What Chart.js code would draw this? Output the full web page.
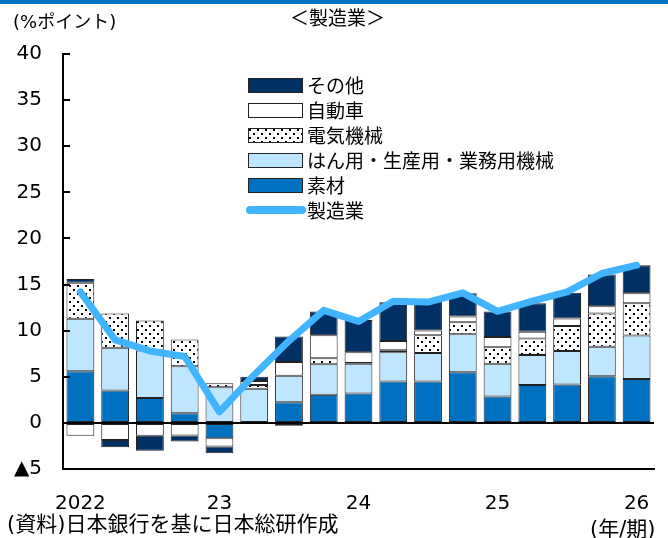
<!DOCTYPE html>
<html>
<head>
<meta charset="utf-8">
<script src="https://cdn.jsdelivr.net/npm/chart.js@4/dist/chart.umd.min.js"></script>
<style>
  body { margin: 0; background: #fff; }
  #wrap { position: relative; width: 668px; height: 538px; overflow: hidden; }
  #bar { position: absolute; left: 0; top: 0; width: 668px; height: 4px; background: rgb(0,112,192); }
  .txt { position: absolute; font-family: "DejaVu Sans", "Noto Sans CJK JP", sans-serif; color: #000; white-space: nowrap; }
</style>
</head>
<body>
<div id="wrap">
  <div id="bar"></div>
  <canvas id="graph" width="668" height="538"></canvas>
  <div class="txt" style="left:13px; top:7px; font-size:18px;">(%ポイント)</div>
  <div class="txt" style="left:290px; top:3px; font-size:19px; font-family:'Noto Sans CJK JP';">＜製造業＞</div>
  <div class="txt" style="left:7px; top:507px; font-size:21px;">(資料)日本銀行を基に日本総研作成</div>
  <div class="txt" style="left:590px; top:512px; font-size:21px;">(年/期)</div>
</div>
<script>
// 2022Q1 - 2026Q1
const quarters = ["2022/1","2022/2","2022/3","2022/4","2023/1","2023/2","2023/3","2023/4",
                  "2024/1","2024/2","2024/3","2024/4","2025/1","2025/2","2025/3","2025/4","2026/1"];
const tickLabels = ["2022","","","","23","","","","24","","","","25","","","","26"];

const sozai   = [5.6, 3.5, 2.7, 1.05, -1.67, 0, 2.24, 3.04, 3.2, 4.5, 4.5, 5.5, 2.86, 4.1, 4.17, 5.07, 4.77];
const hanyou  = [5.7, 4.65, 5.15, 5.1, 3.87, 3.7, 2.86, 3.33, 3.2, 3.15, 3.07, 4.12, 3.54, 3.25, 3.63, 3.18, 4.7];
const denki   = [3.9, 3.7, 3.25, 2.9, 0.43, 0.4, -0.3, 0.63, 0.1, 0.22, 1.92, 1.3, 1.8, 1.8, 2.7, 3.6, 3.5];
const jidosha = [-1.4, -1.85, -1.4, -1.37, -0.9, 0.45, 1.5, 2.5, 1.16, 1.0, 0.54, 0.61, 1.1, 0.72, 0.83, 0.8, 1.08];
const sonota  = [0.4, -0.8, -1.63, -0.65, -0.73, 0.45, 2.76, 2.57, 3.5, 4.2, 3.1, 2.54, 2.77, 3.1, 2.78, 3.44, 3.05];
const seizo   = [14.2, 9.0, 7.8, 7.2, 1.2, 5.2, 8.9, 12.2, 11.0, 13.2, 13.1, 14.1, 12.1, 13.2, 14.2, 16.2, 17.1];

const colSozai = 'rgb(0,112,192)';
const colHanyou = 'rgb(190,230,255)';
const colSonota = 'rgb(0,48,100)';
const colLine = 'rgb(64,180,255)';

// 電気機械 の点模様
function dotPattern() {
    const c = document.createElement('canvas');
    c.width = 8; c.height = 8;
    const g = c.getContext('2d');
    g.fillStyle = '#fff';
    g.fillRect(0, 0, 8, 8);
    g.fillStyle = '#000';
    g.fillRect(1, 1, 2, 2);
    g.fillRect(5, 5, 2, 2);
    return g.createPattern(c, 'repeat');
}
const dots = dotPattern();

const legendItems = [
    { label: 'その他', fill: colSonota },
    { label: '自動車', fill: '#fff' },
    { label: '電気機械', fill: dots },
    { label: 'はん用・生産用・業務用機械', fill: colHanyou },
    { label: '素材', fill: colSozai },
    { label: '製造業', line: colLine }
];

const extras = {
    id: 'extras',
    afterDraw(chart) {
        const ctx = chart.ctx;
        const y = chart.scales.y;
        // 内向きの目盛り
        ctx.save();
        ctx.strokeStyle = '#000';
        ctx.lineWidth = 2;
        y.ticks.forEach(t => {
            if (t.value <= -5) return;
            const py = Math.round(y.getPixelForValue(t.value));
            ctx.beginPath();
            ctx.moveTo(y.right, py);
            ctx.lineTo(y.right + 7, py);
            ctx.stroke();
        });
        // 凡例
        const x0 = 248, w = 54, h = 14;
        ctx.font = '19px "Noto Sans CJK JP"';
        ctx.textBaseline = 'middle';
        legendItems.forEach((it, i) => {
            const cy = 85 + i * 25;
            if (it.line) {
                ctx.strokeStyle = it.line;
                ctx.lineWidth = 8;
                ctx.lineCap = 'round';
                ctx.beginPath();
                ctx.moveTo(x0 + 2, cy);
                ctx.lineTo(x0 + w, cy);
                ctx.stroke();
            } else {
                ctx.fillStyle = it.fill;
                ctx.fillRect(x0, cy - h / 2, w, h);
                ctx.strokeStyle = '#222';
                ctx.lineWidth = 1;
                ctx.strokeRect(x0 + 0.5, cy - h / 2 + 0.5, w, h);
            }
            ctx.fillStyle = '#000';
            ctx.fillText(it.label, x0 + w + 5, cy + 1);
        });
        ctx.restore();
    }
};

const barBase = { type: 'bar', borderColor: '#222', borderWidth: 1, borderSkipped: false, order: 1, stack: 'parts',
                  barPercentage: 0.8, categoryPercentage: 1.0 };

new Chart(document.getElementById('graph'), {
    data: {
        labels: quarters,
        datasets: [
            { ...barBase, label: '素材', data: sozai, backgroundColor: colSozai },
            { ...barBase, label: 'はん用・生産用・業務用機械', data: hanyou, backgroundColor: colHanyou },
            { ...barBase, label: '電気機械', data: denki, backgroundColor: dots },
            { ...barBase, label: '自動車', data: jidosha, backgroundColor: '#fff' },
            { ...barBase, label: 'その他', data: sonota, backgroundColor: colSonota },
            { type: 'line', label: '製造業', data: seizo, stack: 'total', order: 0,
              borderColor: colLine, borderWidth: 7, pointRadius: 0, tension: 0,
              borderCapStyle: 'round', borderJoinStyle: 'round', fill: false }
        ]
    },
    options: {
        responsive: false,
        animation: false,
        layout: { padding: { top: 54, right: 14, left: 0, bottom: 0 } },
        plugins: { legend: { display: false }, tooltip: { enabled: false } },
        scales: {
            x: {
                stacked: true,
                offset: true,
                grid: { display: false },
                border: { color: '#000', width: 2 },
                ticks: {
                    autoSkip: false, maxRotation: 0, padding: 15,
                    color: '#000', font: { family: 'DejaVu Sans', size: 20 },
                    callback: (v, i) => tickLabels[i]
                },
                afterFit: s => { s.height = 69; }
            },
            y: {
                stacked: true,
                min: -5, max: 40,
                border: { color: '#000', width: 2 },
                grid: {
                    drawTicks: false,
                    color: c => (c.tick && c.tick.value === 0) ? '#000' : 'rgba(0,0,0,0)',
                    lineWidth: 2
                },
                ticks: {
                    stepSize: 5, padding: 21, color: '#000',
                    font: { family: 'DejaVu Sans', size: 20 },
                    callback: v => v < 0 ? '▲' + Math.abs(v) : v
                },
                afterFit: s => { s.width = 63; }
            }
        }
    },
    plugins: [extras]
});
</script>
</body>
</html>
